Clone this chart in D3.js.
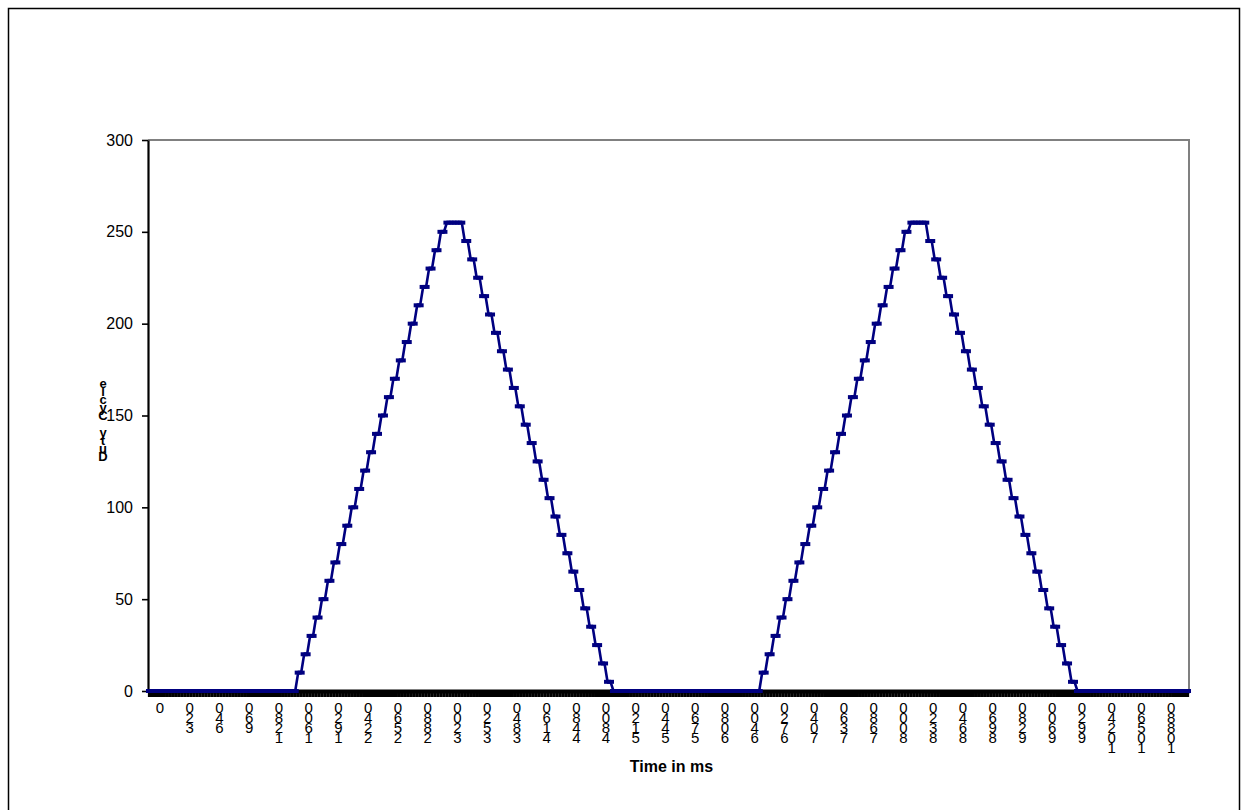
<!DOCTYPE html>
<html>
<head>
<meta charset="utf-8">
<script src="https://cdn.jsdelivr.net/npm/d3@7"></script>
<style>
  html, body { margin: 0; padding: 0; background: #fff; }
  svg { display: block; }
  text { font-family: "Liberation Sans", Arial, sans-serif; }
  .vstack { writing-mode: vertical-rl; text-orientation: upright; }
</style>
</head>
<body>
<svg id="chart" width="1248" height="810"></svg>
<script>
// Duty cycle samples (one per category along the time axis)
const dutyCycle = [
  0,0,0,0,0,0,0,0,0,0, 0,0,0,0,0,0,0,0,0,0, 0,0,0,0,0,0,0,0,0,0, 0,0,0,0,0,0,0,0,0,0, 0,0,0,0,0,0,0,0,0,0,
  10,10,20,20,30,30,40,40,50,50,60,60,70,70,80,80,90,90,100,100,
  110,110,120,120,130,130,140,140,150,150,160,160,170,170,180,180,190,190,200,200,
  210,210,220,220,230,230,240,240,250,250,
  255,255,255,255,255,255,
  245,245,235,235,225,225,215,215,205,205,195,195,185,185,175,175,165,165,155,155,
  145,145,135,135,125,125,115,115,105,105,95,95,85,85,75,75,65,65,55,55,
  45,45,35,35,25,25,15,15,5,5,
  0,0,0,0,0,0,0,0,0,0, 0,0,0,0,0,0,0,0,0,0, 0,0,0,0,0,0,0,0,0,0, 0,0,0,0,0,0,0,0,0,0, 0,0,0,0,0,0,0,0,0,0,
  10,10,20,20,30,30,40,40,50,50,60,60,70,70,80,80,90,90,100,100,
  110,110,120,120,130,130,140,140,150,150,160,160,170,170,180,180,190,190,200,200,
  210,210,220,220,230,230,240,240,250,250,
  255,255,255,255,255,255,
  245,245,235,235,225,225,215,215,205,205,195,195,185,185,175,175,165,165,155,155,
  145,145,135,135,125,125,115,115,105,105,95,95,85,85,75,75,65,65,55,55,
  45,45,35,35,25,25,15,15,5,5,
  0,0,0,0,0,0,0,0,0,0, 0,0,0,0,0,0,0,0,0,0, 0,0,0,0,0,0,0,0,0,0, 0,0,0,0,0,0,0,0
];

// Category labels shown on every 10th sample
const timeLabels = [
  "0","320","640","960","1280","1600","1920","2240","2560","2880",
  "3200","3520","3840","4160","4480","4800","5120","5440","5760","6080",
  "6400","6720","7040","7360","7680","8000","8320","8640","8960","9280",
  "9600","9920","10240","10560","10880"
];
const labelEvery = 10;

const yTicks = [0, 50, 100, 150, 200, 250, 300];
const xTitle = "Time in ms";
const yTitle = "Duty Cycle";

const svg = d3.select("#chart");
const W = 1248, H = 810;
const plot = { left: 148, right: 1189, top: 140, bottom: 691 };

svg.append("rect").attr("width", W).attr("height", H).attr("fill", "#fff");
// outer chart border (bottom edge lies below the picture)
svg.append("rect")
  .attr("x", 8.5).attr("y", 8.5).attr("width", 1231).attr("height", 810)
  .attr("fill", "none").attr("stroke", "#000").attr("stroke-width", 1.5);

const x = d3.scaleBand().domain(d3.range(dutyCycle.length)).range([plot.left, plot.right]).padding(0);
const y = d3.scaleLinear().domain([0, 300]).range([plot.bottom, plot.top]);
const cx = i => x(i) + x.bandwidth() / 2;

// plot area border (top + right, grey)
svg.append("path")
  .attr("d", `M${plot.left},${plot.top}H${plot.right}V${plot.bottom}`)
  .attr("fill", "none").attr("stroke", "#808080").attr("stroke-width", 2);

// Y axis
const yAxis = svg.append("g")
  .attr("transform", `translate(${plot.left},0)`)
  .call(d3.axisLeft(y).tickValues(yTicks).tickSize(6).tickSizeOuter(0).tickPadding(9));
yAxis.select(".domain").attr("stroke", "#000").attr("stroke-width", 2.2);
yAxis.selectAll(".tick line").attr("stroke", "#000").attr("stroke-width", 1.6);
yAxis.selectAll(".tick text")
  .attr("font-size", 16).attr("fill", "#000")
  .style("font-family", '"Liberation Sans", Arial, sans-serif');

// X axis (dense category tick marks -> solid black bar)
const xAxis = svg.append("g")
  .attr("transform", `translate(0,${plot.bottom})`)
  .call(d3.axisBottom(x).tickValues(x.domain()).tickSize(6).tickSizeOuter(0).tickFormat(""));
xAxis.select(".domain").attr("stroke", "#000").attr("stroke-width", 4);
xAxis.selectAll(".tick line").attr("stroke", "#000").attr("stroke-width", 3.2);

// X tick labels: characters stacked vertically (one text per label)
svg.append("g").selectAll("text")
  .data(timeLabels)
  .join("text")
  .attr("class", "vstack")
  .attr("x", (d, k) => x(k * labelEvery) + x.bandwidth() * 4)
  .attr("y", 699)
  .attr("font-size", 15)
  .attr("letter-spacing", -7.0)
  .attr("fill", "#000")
  .text(d => d.split("").reverse().join(""));

// X title
svg.append("text")
  .attr("x", 671.5).attr("y", 772)
  .attr("text-anchor", "middle").attr("font-size", 16).attr("font-weight", "bold")
  .text(xTitle);

// Y title: characters stacked vertically
svg.append("text")
  .attr("class", "vstack")
  .attr("x", 103).attr("y", 376)
  .attr("font-size", 13).attr("font-weight", "bold")
  .attr("letter-spacing", -6.9)
  .text(yTitle.split("").reverse().join(""));

// Series line
const line = d3.line().x((d, i) => cx(i)).y(d => y(d));
svg.append("path")
  .datum(dutyCycle)
  .attr("d", line)
  .attr("fill", "none").attr("stroke", "#000080").attr("stroke-width", 2.6)
  .attr("stroke-linejoin", "miter");

// Dash markers
svg.append("g").selectAll("rect")
  .data(dutyCycle)
  .join("rect")
  .attr("x", (d, i) => cx(i) - 3.5)
  .attr("y", d => y(d) - 2)
  .attr("width", 7).attr("height", 4)
  .attr("fill", "#000080");
</script>
</body>
</html>
